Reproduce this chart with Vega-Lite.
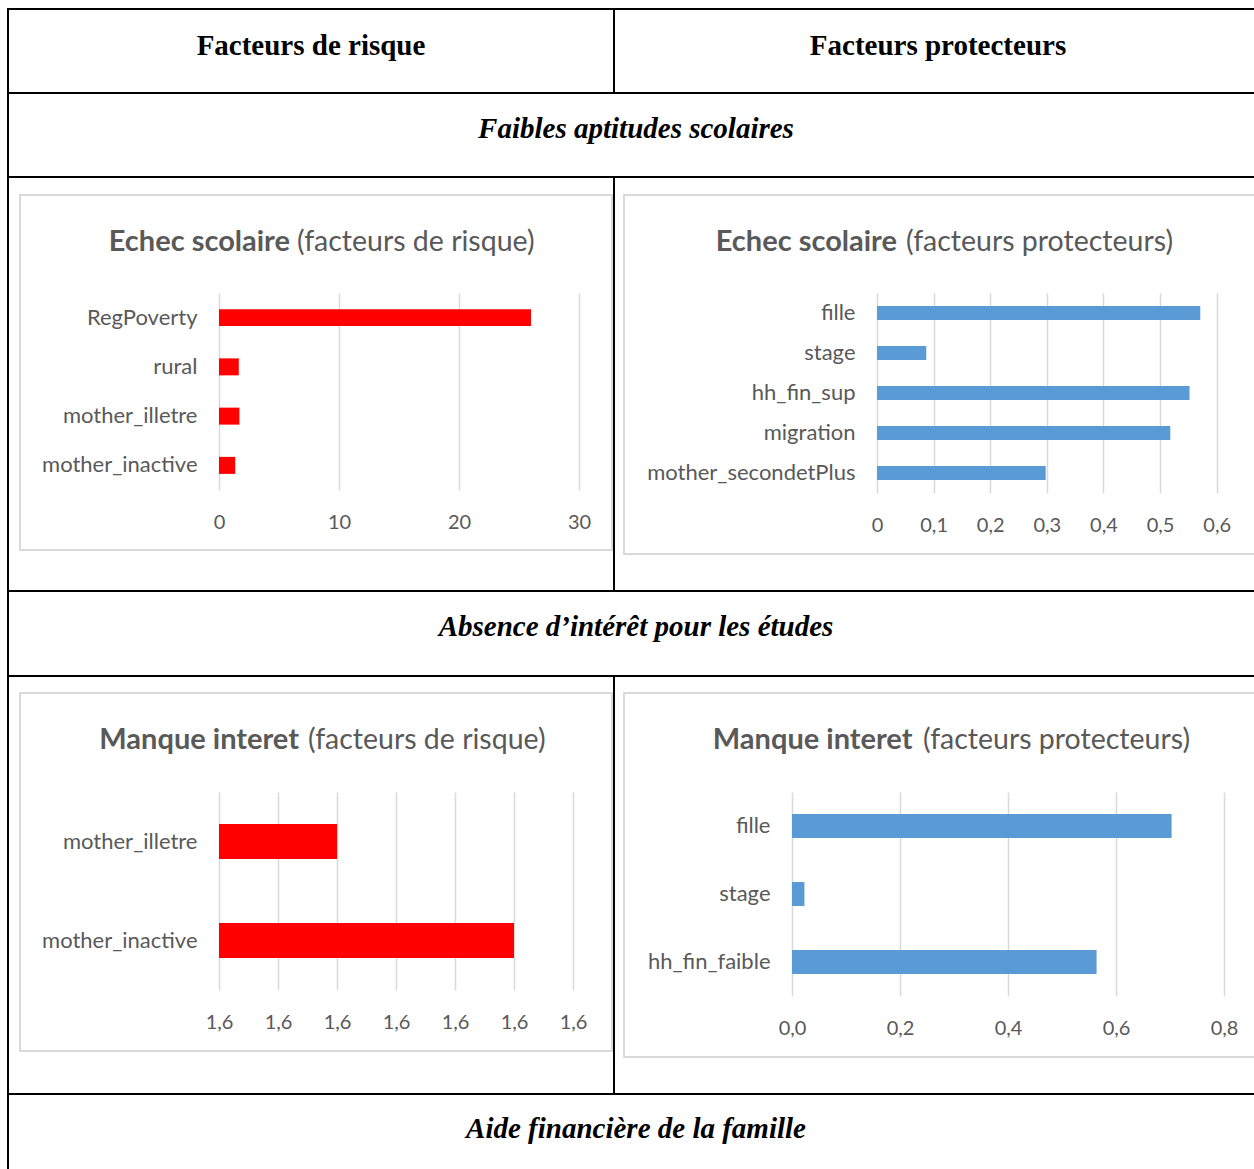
{
  "$schema": "https://vega.github.io/schema/vega-lite/v6.json",
  "background": "white",
  "padding": {"left": 7, "top": 8, "right": 0, "bottom": 0},
  "spacing": 0,
  "datasets": {
    "echec_risque": [
      {"facteur": "RegPoverty", "valeur": 26.0},
      {"facteur": "rural", "valeur": 1.65},
      {"facteur": "mother_illetre", "valeur": 1.7},
      {"facteur": "mother_inactive", "valeur": 1.35}
    ],
    "echec_protecteur": [
      {"facteur": "fille", "valeur": 0.571},
      {"facteur": "stage", "valeur": 0.087},
      {"facteur": "hh_fin_sup", "valeur": 0.552},
      {"facteur": "migration", "valeur": 0.518},
      {"facteur": "mother_secondetPlus", "valeur": 0.298}
    ],
    "interet_risque": [
      {"facteur": "mother_illetre", "valeur": 1.6002},
      {"facteur": "mother_inactive", "valeur": 1.6005}
    ],
    "interet_protecteur": [
      {"facteur": "fille", "valeur": 0.703},
      {"facteur": "stage", "valeur": 0.023},
      {"facteur": "hh_fin_faible", "valeur": 0.564}
    ]
  },
  "vconcat": [
    {"width": 1249, "height": 2, "data": {"values": []}, "mark": "point", "view": {"fill": "black"}},
    {
      "hconcat": [
        {"width": 2, "height": 82, "data": {"values": []}, "mark": "point", "view": {"fill": "black"}},
        {"width": 604, "height": 82, "data": {"values": [{"texte": "Facteurs de risque"}]}, "mark": {"type": "text", "font": "Liberation Serif", "fontSize": 29, "fontWeight": "bold", "color": "black", "baseline": "middle", "dy": -5}, "encoding": {"text": {"field": "texte"}}},
        {"width": 2, "height": 82, "data": {"values": []}, "mark": "point", "view": {"fill": "black"}},
        {"width": 641, "height": 82, "data": {"values": [{"texte": "Facteurs protecteurs"}]}, "mark": {"type": "text", "font": "Liberation Serif", "fontSize": 29, "fontWeight": "bold", "color": "black", "baseline": "middle", "dx": 2.5, "dy": -5}, "encoding": {"text": {"field": "texte"}}}
      ],
      "spacing": 0
    },
    {"width": 1249, "height": 2, "data": {"values": []}, "mark": "point", "view": {"fill": "black"}},
    {
      "hconcat": [
        {"width": 2, "height": 82, "data": {"values": []}, "mark": "point", "view": {"fill": "black"}},
        {"width": 1247, "height": 82, "data": {"values": [{"texte": "Faibles aptitudes scolaires"}]}, "mark": {"type": "text", "font": "Liberation Serif", "fontSize": 29, "fontWeight": "bold", "fontStyle": "italic", "color": "black", "baseline": "middle", "dx": 3.5, "dy": -6}, "encoding": {"text": {"field": "texte"}}}
      ],
      "spacing": 0
    },
    {"width": 1249, "height": 2, "data": {"values": []}, "mark": "point", "view": {"fill": "black"}},
    {
      "hconcat": [
        {"width": 2, "height": 412, "data": {"values": []}, "mark": "point", "view": {"fill": "black"}},
        {
          "vconcat": [
            {"width": 604, "height": 16, "data": {"values": []}, "mark": "point"},
            {
              "hconcat": [
                {"width": 10, "height": 357, "data": {"values": []}, "mark": "point"},
                {
                  "vconcat": [
                    {"width": 594, "height": 2, "data": {"values": []}, "mark": "point", "view": {"fill": "#d9d9d9"}},
                    {
                      "hconcat": [
                        {"width": 2, "height": 353, "data": {"values": []}, "mark": "point", "view": {"fill": "#d9d9d9"}},
                        {
                          "vconcat": [
                            {
                              "width": 590, "height": 97,
                              "data": {"values": [{"gras": "Echec scolaire", "suite": "(facteurs de risque)"}]},
                              "layer": [
                                {"mark": {"type": "text", "align": "right", "baseline": "middle", "dx": -26, "dy": -3, "font": "Lato", "fontSize": 29, "fontWeight": "bold", "color": "#595959"}, "encoding": {"text": {"field": "gras"}}},
                                {"mark": {"type": "text", "align": "left", "baseline": "middle", "dx": -19, "dy": -3, "font": "Lato", "fontSize": 28.5, "color": "#595959"}, "encoding": {"text": {"field": "suite"}}}
                              ]
                            },
                            {
                              "hconcat": [
                                {"width": 198, "height": 256, "data": {"values": []}, "mark": "point"},
                                {
                                  "width": 360, "height": 197,
                                  "data": {"name": "echec_risque"},
                                  "mark": {"type": "bar", "color": "#ff0000"},
                                  "encoding": {
                                    "y": {"field": "facteur", "type": "nominal", "sort": null, "title": null, "scale": {"paddingInner": 0.655, "paddingOuter": 0.3275}, "axis": {"grid": false, "labelPadding": 22, "labelFontSize": 22}},
                                    "x": {"field": "valeur", "type": "quantitative", "title": null, "scale": {"domain": [0, 30], "nice": false}, "axis": {"values": [0, 10, 20, 30], "grid": true, "labelPadding": 22}}
                                  }
                                },
                                {"width": 32, "height": 256, "data": {"values": []}, "mark": "point"}
                              ],
                              "spacing": 0, "bounds": "flush"
                            }
                          ],
                          "spacing": 0
                        },
                        {"width": 2, "height": 353, "data": {"values": []}, "mark": "point", "view": {"fill": "#d9d9d9"}}
                      ],
                      "spacing": 0
                    },
                    {"width": 594, "height": 2, "data": {"values": []}, "mark": "point", "view": {"fill": "#d9d9d9"}}
                  ],
                  "spacing": 0
                }
              ],
              "spacing": 0
            }
          ],
          "spacing": 0
        },
        {"width": 2, "height": 412, "data": {"values": []}, "mark": "point", "view": {"fill": "black"}},
        {
          "vconcat": [
            {"width": 641, "height": 16, "data": {"values": []}, "mark": "point"},
            {
              "hconcat": [
                {"width": 8, "height": 361, "data": {"values": []}, "mark": "point"},
                {
                  "vconcat": [
                    {"width": 633, "height": 2, "data": {"values": []}, "mark": "point", "view": {"fill": "#d9d9d9"}},
                    {
                      "hconcat": [
                        {"width": 2, "height": 357, "data": {"values": []}, "mark": "point", "view": {"fill": "#d9d9d9"}},
                        {
                          "vconcat": [
                            {
                              "width": 629, "height": 97,
                              "data": {"values": [{"gras": "Echec scolaire", "suite": "(facteurs protecteurs)"}]},
                              "layer": [
                                {"mark": {"type": "text", "align": "right", "baseline": "middle", "dx": -42.5, "dy": -3, "font": "Lato", "fontSize": 29, "fontWeight": "bold", "color": "#595959"}, "encoding": {"text": {"field": "gras"}}},
                                {"mark": {"type": "text", "align": "left", "baseline": "middle", "dx": -33.5, "dy": -3, "font": "Lato", "fontSize": 28.5, "color": "#595959"}, "encoding": {"text": {"field": "suite"}}}
                              ]
                            },
                            {
                              "hconcat": [
                                {"width": 252, "height": 260, "data": {"values": []}, "mark": "point"},
                                {
                                  "width": 368, "height": 200,
                                  "data": {"name": "echec_protecteur"},
                                  "mark": {"type": "bar", "color": "#5b9bd5"},
                                  "encoding": {
                                    "y": {"field": "facteur", "type": "nominal", "sort": null, "title": null, "scale": {"paddingInner": 0.65, "paddingOuter": 0.325}, "axis": {"grid": false, "labelPadding": 22, "labelFontSize": 22}},
                                    "x": {"field": "valeur", "type": "quantitative", "title": null, "scale": {"domain": [0, 0.65], "nice": false}, "axis": {"values": [0, 0.1, 0.2, 0.3, 0.4, 0.5, 0.6], "grid": true, "labelPadding": 22, "labelExpr": "replace(format(datum.value, '~g'), '.', ',')"}}
                                  }
                                },
                                {"width": 9, "height": 260, "data": {"values": []}, "mark": "point"}
                              ],
                              "spacing": 0, "bounds": "flush"
                            }
                          ],
                          "spacing": 0
                        },
                        {"width": 2, "height": 357, "data": {"values": []}, "mark": "point", "view": {"fill": "#d9d9d9"}}
                      ],
                      "spacing": 0
                    },
                    {"width": 633, "height": 2, "data": {"values": []}, "mark": "point", "view": {"fill": "#d9d9d9"}}
                  ],
                  "spacing": 0
                }
              ],
              "spacing": 0
            }
          ],
          "spacing": 0
        }
      ],
      "spacing": 0
    },
    {"width": 1249, "height": 2, "data": {"values": []}, "mark": "point", "view": {"fill": "black"}},
    {
      "hconcat": [
        {"width": 2, "height": 83, "data": {"values": []}, "mark": "point", "view": {"fill": "black"}},
        {"width": 1247, "height": 83, "data": {"values": [{"texte": "Absence d’intérêt pour les études"}]}, "mark": {"type": "text", "font": "Liberation Serif", "fontSize": 29, "fontWeight": "bold", "fontStyle": "italic", "color": "black", "baseline": "middle", "dx": 3.5, "dy": -6.5}, "encoding": {"text": {"field": "texte"}}}
      ],
      "spacing": 0
    },
    {"width": 1249, "height": 2, "data": {"values": []}, "mark": "point", "view": {"fill": "black"}},
    {
      "hconcat": [
        {"width": 2, "height": 416, "data": {"values": []}, "mark": "point", "view": {"fill": "black"}},
        {
          "vconcat": [
            {"width": 604, "height": 15, "data": {"values": []}, "mark": "point"},
            {
              "hconcat": [
                {"width": 10, "height": 360, "data": {"values": []}, "mark": "point"},
                {
                  "vconcat": [
                    {"width": 594, "height": 2, "data": {"values": []}, "mark": "point", "view": {"fill": "#d9d9d9"}},
                    {
                      "hconcat": [
                        {"width": 2, "height": 356, "data": {"values": []}, "mark": "point", "view": {"fill": "#d9d9d9"}},
                        {
                          "vconcat": [
                            {
                              "width": 590, "height": 98,
                              "data": {"values": [{"gras": "Manque interet", "suite": "(facteurs de risque)"}]},
                              "layer": [
                                {"mark": {"type": "text", "align": "right", "baseline": "middle", "dx": -17, "dy": -3.5, "font": "Lato", "fontSize": 29, "fontWeight": "bold", "color": "#595959"}, "encoding": {"text": {"field": "gras"}}},
                                {"mark": {"type": "text", "align": "left", "baseline": "middle", "dx": -8, "dy": -3.5, "font": "Lato", "fontSize": 28.5, "color": "#595959"}, "encoding": {"text": {"field": "suite"}}}
                              ]
                            },
                            {
                              "hconcat": [
                                {"width": 198, "height": 258, "data": {"values": []}, "mark": "point"},
                                {
                                  "width": 354, "height": 198,
                                  "data": {"name": "interet_risque"},
                                  "mark": {"type": "bar", "color": "#ff0000"},
                                  "encoding": {
                                    "y": {"field": "facteur", "type": "nominal", "sort": null, "title": null, "scale": {"paddingInner": 0.646, "paddingOuter": 0.323}, "axis": {"grid": false, "labelPadding": 22, "labelFontSize": 22}},
                                    "x": {"field": "valeur", "type": "quantitative", "title": null, "scale": {"domain": [1.6, 1.6006], "nice": false, "zero": false}, "axis": {"values": [1.6, 1.6001, 1.6002, 1.6003, 1.6004, 1.6005, 1.6006], "grid": true, "labelPadding": 22, "labelExpr": "replace(format(datum.value, '.1f'), '.', ',')"}},
                                    "x2": {"datum": 1.6}
                                  }
                                },
                                {"width": 38, "height": 258, "data": {"values": []}, "mark": "point"}
                              ],
                              "spacing": 0, "bounds": "flush"
                            }
                          ],
                          "spacing": 0
                        },
                        {"width": 2, "height": 356, "data": {"values": []}, "mark": "point", "view": {"fill": "#d9d9d9"}}
                      ],
                      "spacing": 0
                    },
                    {"width": 594, "height": 2, "data": {"values": []}, "mark": "point", "view": {"fill": "#d9d9d9"}}
                  ],
                  "spacing": 0
                }
              ],
              "spacing": 0
            }
          ],
          "spacing": 0
        },
        {"width": 2, "height": 416, "data": {"values": []}, "mark": "point", "view": {"fill": "black"}},
        {
          "vconcat": [
            {"width": 641, "height": 15, "data": {"values": []}, "mark": "point"},
            {
              "hconcat": [
                {"width": 8, "height": 366, "data": {"values": []}, "mark": "point"},
                {
                  "vconcat": [
                    {"width": 633, "height": 2, "data": {"values": []}, "mark": "point", "view": {"fill": "#d9d9d9"}},
                    {
                      "hconcat": [
                        {"width": 2, "height": 362, "data": {"values": []}, "mark": "point", "view": {"fill": "#d9d9d9"}},
                        {
                          "vconcat": [
                            {
                              "width": 629, "height": 98,
                              "data": {"values": [{"gras": "Manque interet", "suite": "(facteurs protecteurs)"}]},
                              "layer": [
                                {"mark": {"type": "text", "align": "right", "baseline": "middle", "dx": -27, "dy": -3.5, "font": "Lato", "fontSize": 29, "fontWeight": "bold", "color": "#595959"}, "encoding": {"text": {"field": "gras"}}},
                                {"mark": {"type": "text", "align": "left", "baseline": "middle", "dx": -16.5, "dy": -3.5, "font": "Lato", "fontSize": 28.5, "color": "#595959"}, "encoding": {"text": {"field": "suite"}}}
                              ]
                            },
                            {
                              "hconcat": [
                                {"width": 167, "height": 264, "data": {"values": []}, "mark": "point"},
                                {
                                  "width": 432, "height": 204,
                                  "data": {"name": "interet_protecteur"},
                                  "mark": {"type": "bar", "color": "#5b9bd5"},
                                  "encoding": {
                                    "y": {"field": "facteur", "type": "nominal", "sort": null, "title": null, "scale": {"paddingInner": 0.647, "paddingOuter": 0.3235}, "axis": {"grid": false, "labelPadding": 22, "labelFontSize": 22}},
                                    "x": {"field": "valeur", "type": "quantitative", "title": null, "scale": {"domain": [0, 0.8], "nice": false}, "axis": {"values": [0, 0.2, 0.4, 0.6, 0.8], "grid": true, "labelPadding": 22, "labelExpr": "replace(format(datum.value, '.1f'), '.', ',')"}}
                                  }
                                },
                                {"width": 30, "height": 264, "data": {"values": []}, "mark": "point"}
                              ],
                              "spacing": 0, "bounds": "flush"
                            }
                          ],
                          "spacing": 0
                        },
                        {"width": 2, "height": 362, "data": {"values": []}, "mark": "point", "view": {"fill": "#d9d9d9"}}
                      ],
                      "spacing": 0
                    },
                    {"width": 633, "height": 2, "data": {"values": []}, "mark": "point", "view": {"fill": "#d9d9d9"}}
                  ],
                  "spacing": 0
                }
              ],
              "spacing": 0
            }
          ],
          "spacing": 0
        }
      ],
      "spacing": 0
    },
    {"width": 1249, "height": 2, "data": {"values": []}, "mark": "point", "view": {"fill": "black"}},
    {
      "hconcat": [
        {"width": 2, "height": 76, "data": {"values": []}, "mark": "point", "view": {"fill": "black"}},
        {"width": 1247, "height": 76, "data": {"values": [{"texte": "Aide financière de la famille"}]}, "mark": {"type": "text", "font": "Liberation Serif", "fontSize": 29, "fontWeight": "bold", "fontStyle": "italic", "color": "black", "baseline": "middle", "dx": 3.5, "dy": -4}, "encoding": {"text": {"field": "texte"}}}
      ],
      "spacing": 0
    }
  ],
  "config": {
    "view": {"stroke": null},
    "concat": {"spacing": 0},
    "axis": {"domain": false, "ticks": false, "tickSize": 0, "labelFont": "Lato", "labelFontSize": 20, "labelColor": "#595959", "labelLimit": 400, "gridColor": "#d9d9d9", "gridWidth": 1.5, "labelFlush": false, "labelOverlap": false}
  }
}
